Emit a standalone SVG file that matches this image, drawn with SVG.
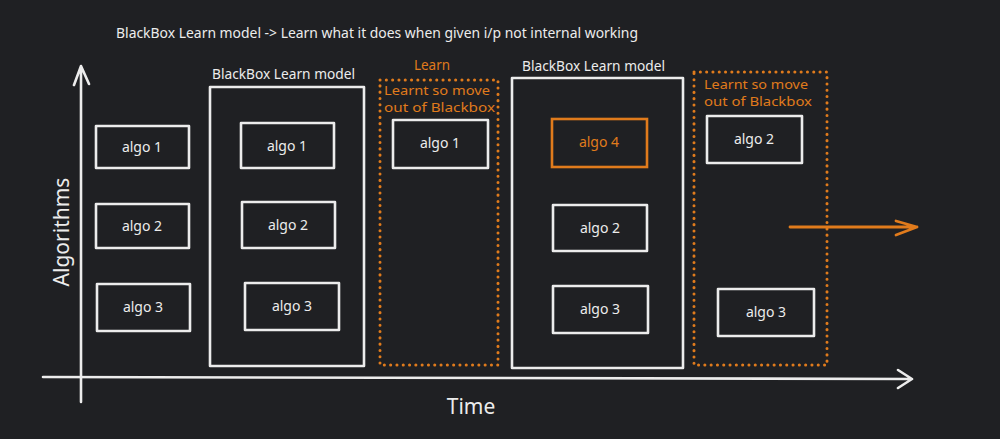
<svg xmlns="http://www.w3.org/2000/svg" width="1000" height="439" viewBox="0 0 1000 439">
<style>
.bg{fill:#1f2023}
.box{fill:none;stroke:#ececec;stroke-width:2.6;stroke-linejoin:round}
.obox{fill:none;stroke:#e07b1c;stroke-width:2.6}
.dot{fill:none;stroke:#e07b1c;stroke-width:3;stroke-dasharray:0.1 6.2;stroke-linecap:round}
.ax{fill:none;stroke:#ececec;stroke-width:2.6;stroke-linecap:round;stroke-linejoin:round}
.oar{fill:none;stroke:#e07b1c;stroke-width:2.8;stroke-linecap:round;stroke-linejoin:round}
text{font-family:"Noto Sans","Liberation Sans",sans-serif}
.t{fill:#ececec;font-size:14px}
.lbl{fill:#ececec;font-size:14px;text-anchor:middle}
.o{fill:#e07b1c;font-size:14px}
.os{fill:#e07b1c;font-size:12.5px}
.big{fill:#ececec;font-size:21px}
</style>
<rect class="bg" x="0" y="0" width="1000" height="439"/>
<text class="t" x="116" y="38" textLength="522" lengthAdjust="spacingAndGlyphs">BlackBox Learn model -&gt; Learn what it does when given i/p not internal working</text>

<g id="connectors">
  <path class="ax" d="M81 402 L81 66 M74 85 L81 66 L89 84"/>
  <path class="ax" d="M43 377 L912 379 M898 370 L912 379 L898 388"/>
  <path class="oar" d="M790 227 L917 227 M896 221 L917 227 L896 235"/>
</g>
<text class="big" transform="translate(69 232) rotate(-90)" text-anchor="middle">Algorithms</text>
<text class="big" x="471" y="414" text-anchor="middle">Time</text>

<g id="col1">
  <g id="c1a1"><rect class="box" x="96" y="126" width="93" height="42"/><text class="lbl" x="142" y="152">algo 1</text></g>
  <g id="c1a2"><rect class="box" x="96" y="204" width="93" height="44"/><text class="lbl" x="142" y="231">algo 2</text></g>
  <g id="c1a3"><rect class="box" x="97" y="284" width="93" height="47"/><text class="lbl" x="143" y="312">algo 3</text></g>
</g>

<g id="blackbox1">
  <text class="t" x="212" y="79" textLength="143" lengthAdjust="spacingAndGlyphs">BlackBox Learn model</text>
  <rect class="box" x="210" y="87" width="154" height="279"/>
  <g id="c2a1"><rect class="box" x="241" y="123" width="93" height="45"/><text class="lbl" x="287" y="151">algo 1</text></g>
  <g id="c2a2"><rect class="box" x="242" y="202" width="93" height="46"/><text class="lbl" x="288" y="230">algo 2</text></g>
  <g id="c2a3"><rect class="box" x="245" y="283" width="94" height="47"/><text class="lbl" x="292" y="311">algo 3</text></g>
</g>

<g id="learnt1">
  <text class="o" x="414" y="70" textLength="36" lengthAdjust="spacingAndGlyphs">Learn</text>
  <rect class="dot" x="380" y="80" width="118" height="285"/>
  <text class="os" x="384" y="95" textLength="106" lengthAdjust="spacingAndGlyphs">Learnt so move</text>
  <text class="os" x="384" y="112" textLength="111" lengthAdjust="spacingAndGlyphs">out of Blackbox</text>
  <g id="c3a1"><rect class="box" x="393" y="120" width="95" height="48"/><text class="lbl" x="440" y="148">algo 1</text></g>
</g>

<g id="blackbox2">
  <text class="t" x="522" y="71" textLength="143" lengthAdjust="spacingAndGlyphs">BlackBox Learn model</text>
  <rect class="box" x="512" y="78" width="171" height="290"/>
  <g id="c4a4"><rect class="obox" x="552" y="119" width="95" height="48"/><text class="o" x="599" y="147" text-anchor="middle">algo 4</text></g>
  <g id="c4a2"><rect class="box" x="553" y="205" width="94" height="46"/><text class="lbl" x="600" y="233">algo 2</text></g>
  <g id="c4a3"><rect class="box" x="553" y="286" width="95" height="47"/><text class="lbl" x="600" y="314">algo 3</text></g>
</g>

<g id="learnt2">
  <rect class="dot" x="694" y="72" width="133" height="293"/>
  <text class="os" x="704" y="89" textLength="104" lengthAdjust="spacingAndGlyphs">Learnt so move</text>
  <text class="os" x="704" y="106" textLength="108" lengthAdjust="spacingAndGlyphs">out of Blackbox</text>
  <g id="c5a2"><rect class="box" x="707" y="116" width="95" height="47"/><text class="lbl" x="754" y="144">algo 2</text></g>
  <g id="c5a3"><rect class="box" x="718" y="289" width="96" height="47"/><text class="lbl" x="766" y="317">algo 3</text></g>
</g>
</svg>
